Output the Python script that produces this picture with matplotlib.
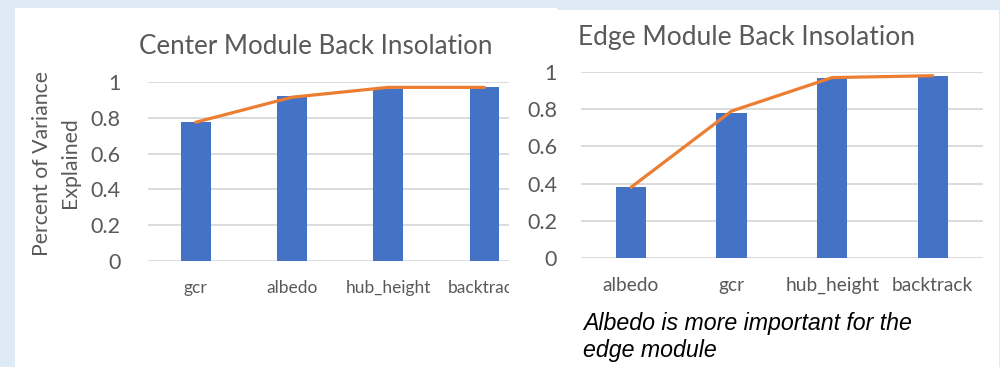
import matplotlib
matplotlib.use("Agg")
import matplotlib.pyplot as plt
from matplotlib.patches import Rectangle
from matplotlib.transforms import Bbox, TransformedBbox

# ---- data ----
center_categories = ["gcr", "albedo", "hub_height", "backtrack"]
center_bars = [0.775, 0.92, 0.96, 0.97]
center_line = [0.775, 0.915, 0.97, 0.97]

edge_categories = ["albedo", "gcr", "hub_height", "backtrack"]
edge_bars = [0.38, 0.78, 0.97, 0.98]
edge_line = [0.38, 0.79, 0.97, 0.98]

yticks = [0, 0.2, 0.4, 0.6, 0.8, 1.0]
ytick_labels = ["0", "0.2", "0.4", "0.6", "0.8", "1"]

center_title = "Center Module Back Insolation"
edge_title = "Edge Module Back Insolation"
ylabel_text = "Percent of Variance\nExplained"
note_text = "Albedo is more important for the\nedge module"

# ---- style ----
BG = "#deebf7"
BAR = "#4472c4"
LINE = "#ed7d31"
GRID = "#d9d9d9"
TXT = "#595959"
FONT = "Lato"

W, H = 1000, 367
fig = plt.figure(figsize=(W / 100, H / 100), dpi=100, facecolor=BG)


def px_axes(x0, y_top, x1, y_bot):
    return fig.add_axes([x0 / W, 1 - y_bot / H, (x1 - x0) / W, (y_bot - y_top) / H])


# white panels behind both charts
fig.patches.append(Rectangle((15 / W, 0), (557 - 15) / W, 1 - 8 / H,
                             transform=fig.transFigure, facecolor="white",
                             edgecolor="none", zorder=-5))
fig.patches.append(Rectangle((557 / W, 0), (999 - 557) / W, 1 - 10 / H,
                             transform=fig.transFigure, facecolor="white",
                             edgecolor="none", zorder=-5))


def style_axes(ax, cats, bars, line, xlim, bar_w, tick_pad, cat_pad, cat_size, tick_size):
    x = list(range(len(cats)))
    ax.set_facecolor("none")
    ax.bar(x, bars, width=bar_w, color=BAR, zorder=2)
    ax.plot(x, line, color=LINE, lw=2.3, solid_capstyle="round",
            solid_joinstyle="round", zorder=3)
    ax.set_xlim(*xlim)
    ax.set_ylim(0, 1)
    ax.set_yticks(yticks)
    ax.set_yticklabels(ytick_labels)
    ax.set_xticks(x)
    ax.set_xticklabels(cats)
    for s in ax.spines.values():
        s.set_visible(False)
    ax.grid(axis="y", color=GRID, lw=1.3, zorder=1)
    ax.set_axisbelow(True)
    ax.tick_params(axis="both", length=0)
    ax.tick_params(axis="y", pad=tick_pad, labelsize=tick_size, labelcolor=TXT)
    ax.tick_params(axis="x", pad=cat_pad, labelsize=cat_size, labelcolor=TXT)
    for lab in ax.get_xticklabels() + ax.get_yticklabels():
        lab.set_fontfamily(FONT)


# left chart (its right end is hidden under the neighbouring panel)
ax1 = px_axes(147.5, 82, 508.6, 261)
style_axes(ax1, center_categories, center_bars, center_line, (-0.5, 3.25),
           0.31, 19.5, 13.5, 12.5, 15.5)
clip = TransformedBbox(Bbox.from_extents(0, 0, 509 / W, 1), fig.transFigure)
for lab in ax1.get_xticklabels():
    lab.set_clip_box(clip)
    lab.set_clip_on(True)

fig.text(316 / W, 1 - 47 / H, center_title, ha="center", va="center",
         fontsize=18.7, color=TXT, family=FONT)
fig.text(56 / W, 1 - 163 / H, ylabel_text, ha="center", va="center",
         rotation=90, fontsize=15.3, color=TXT, family=FONT,
         multialignment="center", linespacing=1.55)

# right chart
ax2 = px_axes(580.7, 72, 983, 258)
style_axes(ax2, edge_categories, edge_bars, edge_line, (-0.5, 3.5),
           0.30, 17, 13.5, 13.8, 15.5)
fig.text(747 / W, 1 - 38 / H, edge_title, ha="center", va="center",
         fontsize=19, color=TXT, family=FONT)

fig.text(583 / W, 1 - 337 / H, note_text, ha="left", va="center",
         fontsize=16.7, style="italic", color="black", family="Liberation Sans",
         linespacing=1.2)

fig.savefig("out.png", dpi=100, facecolor=BG)
